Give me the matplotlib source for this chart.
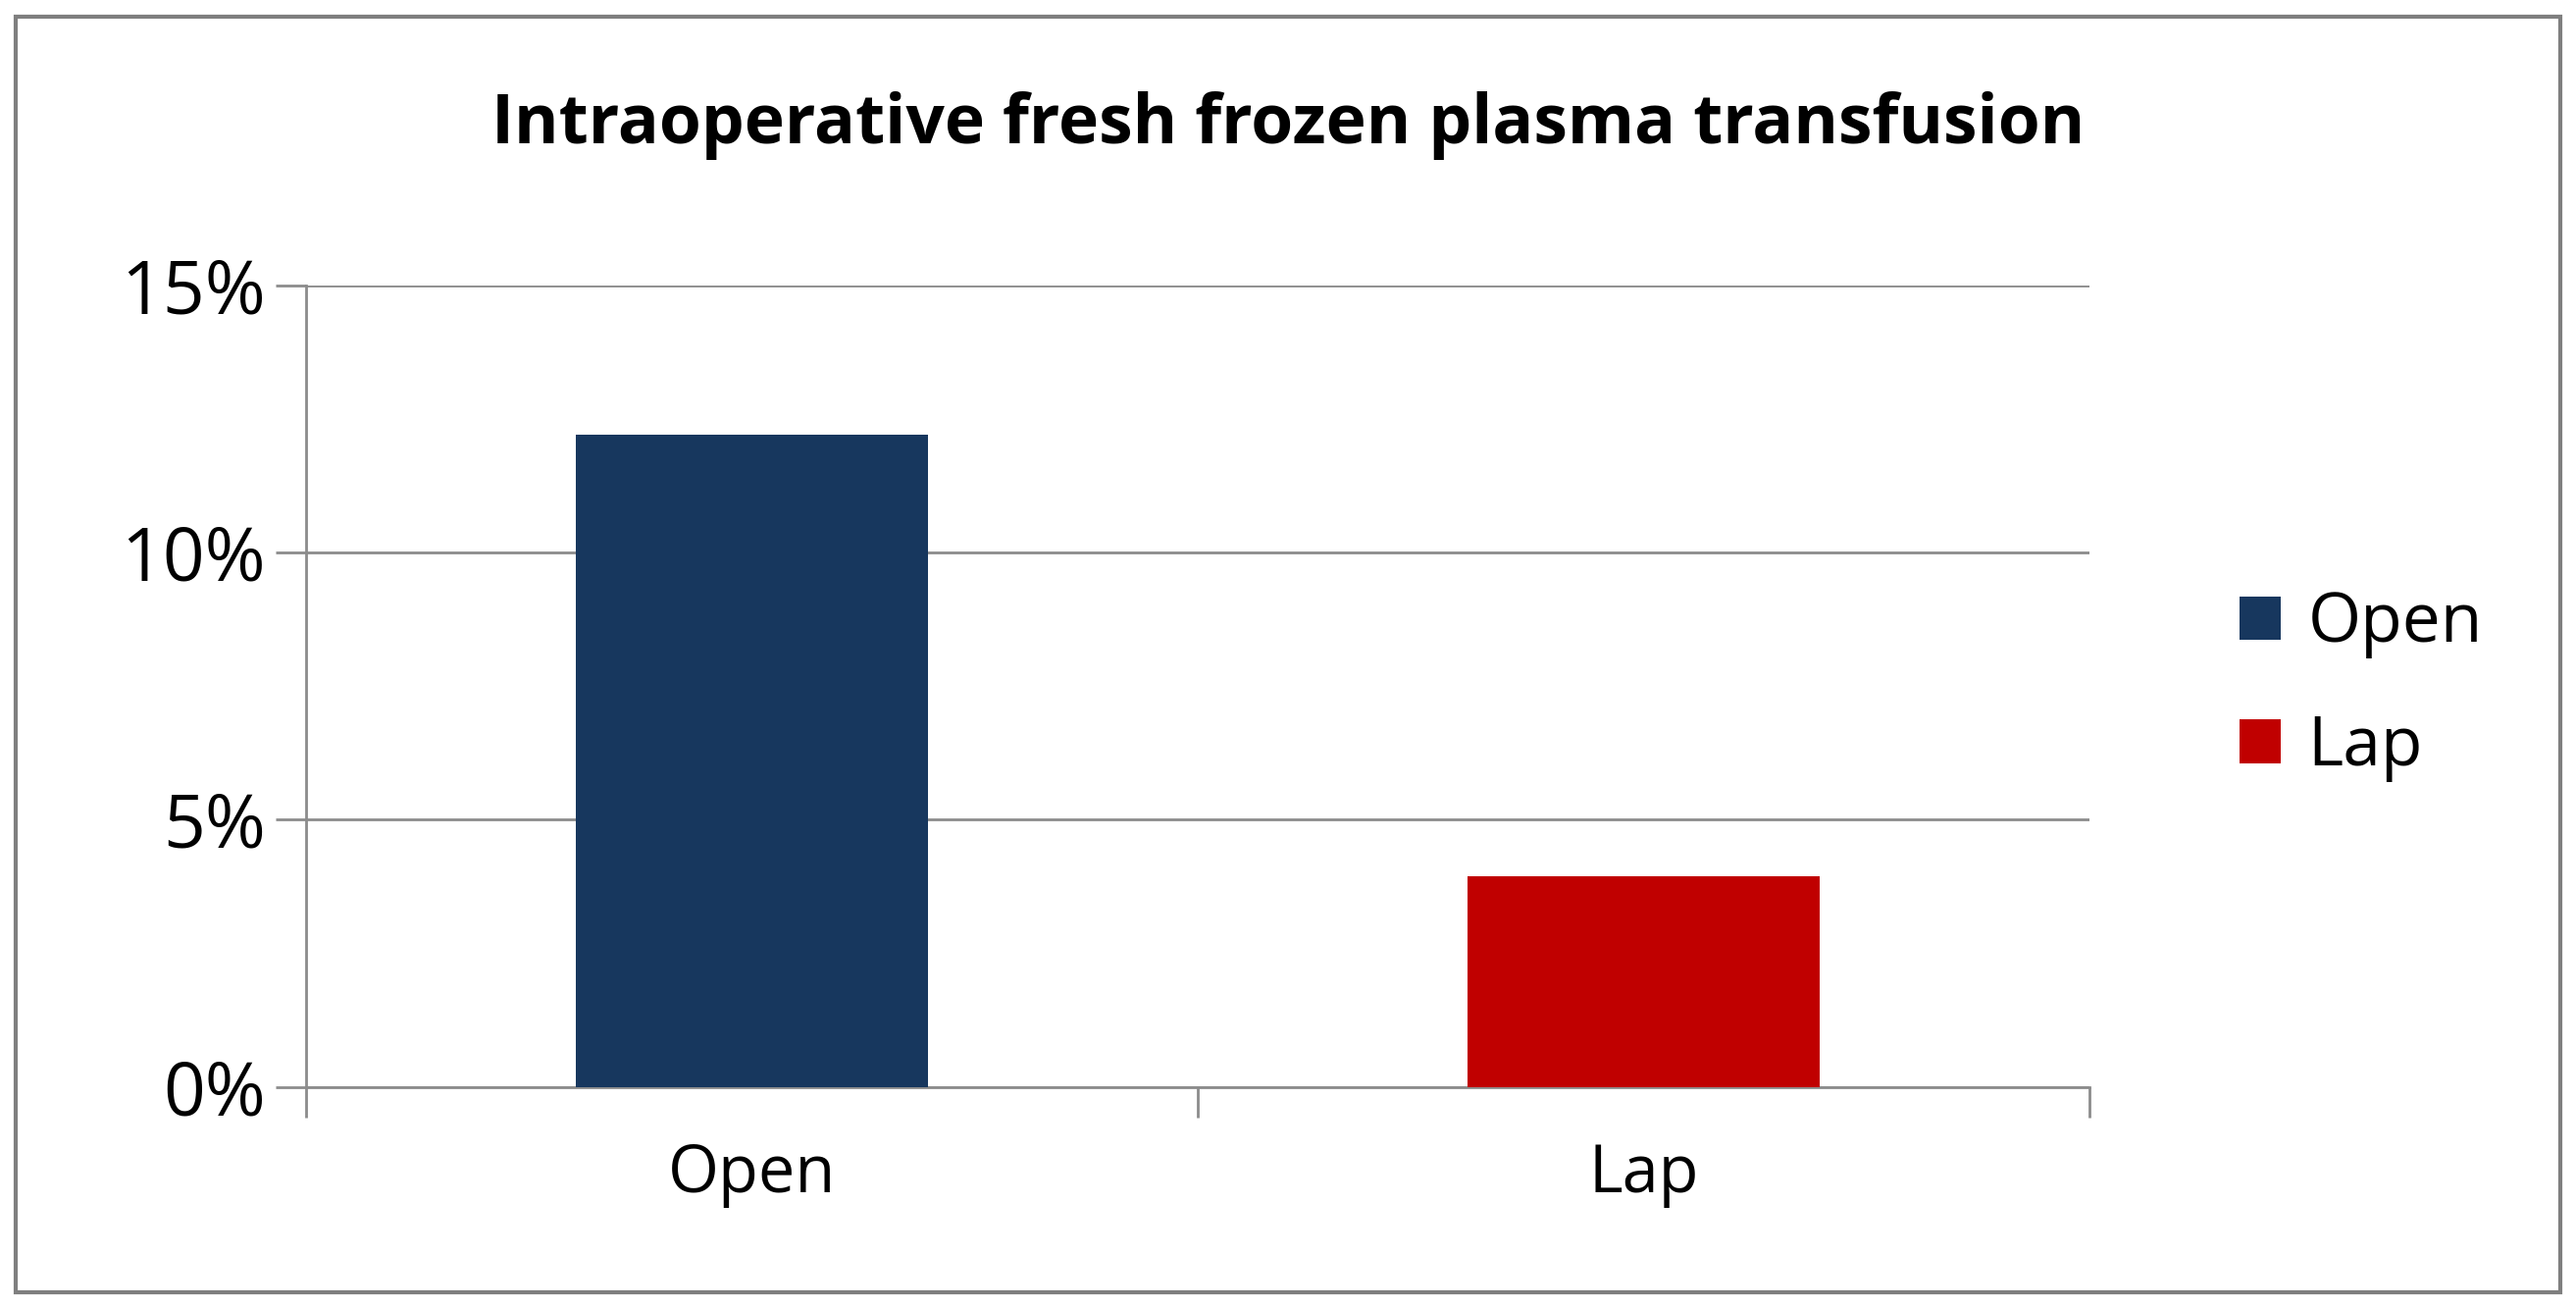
import matplotlib.pyplot as plt
from matplotlib.patches import Rectangle
from matplotlib.ticker import FuncFormatter

categories = ['Open', 'Lap']
values = [12.2, 3.95]
colors = ['#17375E', '#C00000']
yticks = [0, 5, 10, 15]

plt.rcParams['font.family'] = ['Open Sans', 'DejaVu Sans']

fig = plt.figure(figsize=(26.26, 13.33), dpi=100)
ax = fig.add_axes([0.119, 0.169, 0.692, 0.613])

for i, (c, v, col) in enumerate(zip(categories, values, colors)):
    ax.bar(i, v, width=0.395, color=col, label=c, zorder=3)

ax.set_xlim(-0.5, 1.5)
ax.set_ylim(0, 15)
ax.set_yticks(yticks)
ax.yaxis.set_major_formatter(FuncFormatter(lambda v, p: f'{v:.0f}%'))
ax.grid(axis='y', color='#8C8C8C', linewidth=2, zorder=0)
ax.set_xticks([0, 1])
ax.set_xticklabels(categories)
ax.set_xticks([-0.5, 0.5, 1.5], minor=True)
ax.tick_params(axis='x', which='major', length=0, pad=40, labelsize=48)
ax.tick_params(axis='x', which='minor', length=22, width=2, color='#8C8C8C')
ax.tick_params(axis='y', length=22, width=2, color='#8C8C8C', labelsize=54, pad=8)
for s in ['top', 'right']:
    ax.spines[s].set_visible(False)
for s in ['left', 'bottom']:
    ax.spines[s].set_color('#8C8C8C')
    ax.spines[s].set_linewidth(2)

fig.suptitle('Intraoperative fresh frozen plasma transfusion', x=0.5, y=0.93,
             fontsize=50, fontweight='bold')

ax.legend(loc='center left', bbox_to_anchor=(1.05, 0.5), frameon=False,
          fontsize=50, handlelength=0.6, handleheight=0.6, labelspacing=0.8,
          handletextpad=0.4)

fig.patches.append(Rectangle((0.006, 0.012), 0.988, 0.975, transform=fig.transFigure,
                             fill=False, edgecolor='#7F7F7F', linewidth=3))

fig.savefig('out.png', dpi=100)
